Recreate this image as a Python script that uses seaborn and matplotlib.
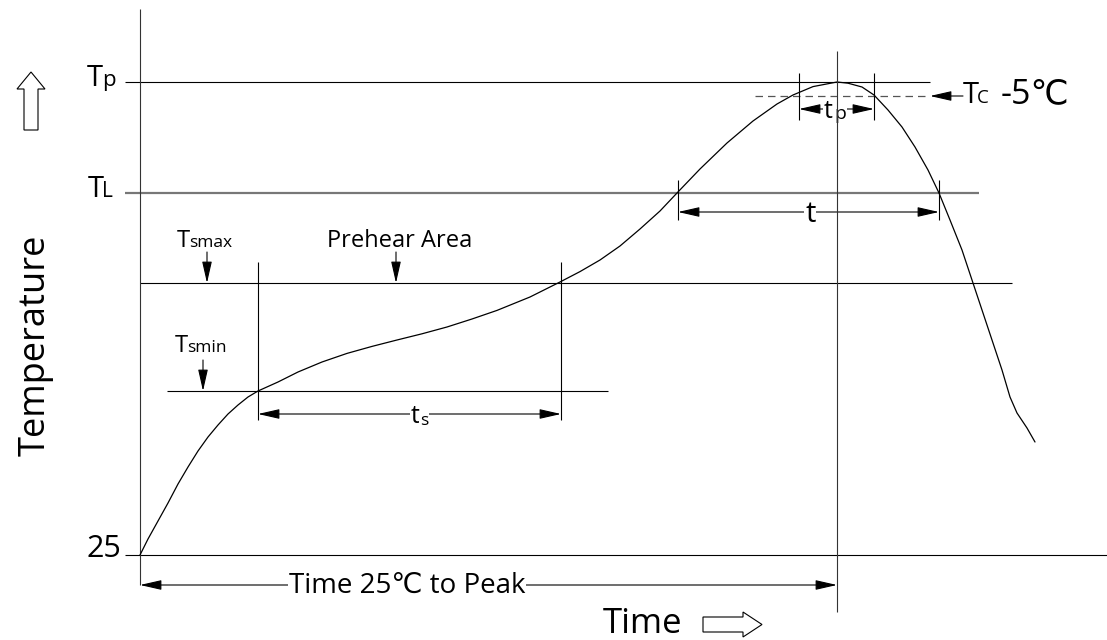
import pandas as pd
import seaborn as sns
import matplotlib.pyplot as plt
from matplotlib.transforms import Affine2D
from matplotlib.patches import Polygon

# Reflow profile curve (schematic), time in arbitrary units, temperature in deg C
time_s = [0, 8, 18, 28, 38, 48, 58, 68, 78, 88, 98, 108, 118, 138, 158, 182, 207,
          232, 257, 282, 307, 332, 357, 390, 420, 440, 460, 480, 500, 520, 537,
          560, 587, 613, 637, 653, 673, 697, 708, 722, 734, 748, 762, 775, 788,
          799, 810, 822, 832, 842, 852, 862, 870, 877, 887, 895]
temp_c = [25, 33, 42, 51, 60.5, 69, 77, 84, 90, 95.5, 100, 104, 107, 111.5, 116.5,
          121.5, 125.8, 129.3, 132.5, 135.6, 139, 143, 147.3, 154, 161.5, 166.7,
          172.5, 179.5, 188, 197, 206, 218, 231, 242, 250.5, 255, 259.2, 261.5,
          260.9, 259, 255, 247.5, 239, 229, 217.5, 206, 192.5, 177.5, 162.5,
          147.5, 132.5, 117.5, 104, 96, 88.5, 81.5]

# Temperature levels
level_names = ['Tp', 'TL', 'Tsmax', 'Tsmin', '25']
level_temps = [261.5, 206, 161, 107, 25]
tc_minus5 = 254.5

# Time markers
ts_start, ts_end = 118, 421
t_start, t_end = 538, 799
tp_start, tp_end = 659, 734
t_peak = 697

W, H, DPI = 1107, 640, 100

sns.set_theme(style='white')
plt.rcParams['font.family'] = ['Open Sans', 'DejaVu Sans']

fig = plt.figure(figsize=(W / DPI, H / DPI), dpi=DPI)
ax = fig.add_axes([0, 0, 1, 1])
ax.set_xlim(-140, 967)
ax.set_ylim(-17.5, 302.5)
ax.axis('off')

# pixel transform for text / decorations (origin top-left like the picture)
px = Affine2D().scale(1 / DPI, -1 / DPI).translate(0, H / DPI) + fig.dpi_scale_trans

df = pd.DataFrame({'time': time_s, 'temp': temp_c})
sns.lineplot(data=df, x='time', y='temp', color='black', lw=0.9, ax=ax, zorder=5)

# level lines
lv = dict(zip(level_names, level_temps))
ax.hlines(lv['Tp'], -15, 790, color='black', lw=0.8)
ax.hlines(lv['TL'], -15, 839, color='#777777', lw=1.6)
ax.hlines(lv['Tsmax'], 0, 872, color='black', lw=0.8)
ax.hlines(lv['Tsmin'], 27, 468, color='black', lw=0.8)
ax.hlines(lv['25'], -15, 967, color='black', lw=0.8)
ax.hlines(tc_minus5, 615, 790, color='#555555', lw=0.9, linestyles=(0, (6, 4)))

# vertical lines
ax.vlines(0, 10, 298, color='#333333', lw=0.8)
ax.vlines(t_peak, -3.5, 277, color='#333333', lw=0.8, zorder=6)
ax.vlines([ts_start, ts_end], 92.5, 171.5, color='black', lw=0.8)
ax.vlines([t_start, t_end], 192.5, 212.5, color='black', lw=0.8)
ax.vlines([tp_start, tp_end], 242.5, 266, color='black', lw=0.8)

head = '-|>,head_length=1.1,head_width=0.25'
both = '<|-|>,head_length=1.1,head_width=0.25'


def arrow(x0, y0, x1, y1, style=head):
    ax.annotate('', xy=(x1, y1), xytext=(x0, y0),
                arrowprops=dict(arrowstyle=style, color='black', lw=0.8,
                                shrinkA=0, shrinkB=0))


# dimension arrows
arrow(ts_start, 95.5, ts_end, 95.5, both)
arrow(t_start, 196.5, t_end, 196.5, both)
arrow(tp_start, 248, tp_end, 248, both)
arrow(0, 10, t_peak, 10, both)
# pointers
arrow(67, 176.5, 67, lv['Tsmax'])
arrow(256, 176.5, 256, lv['Tsmax'])
arrow(63, 122.5, 63, lv['Tsmin'])
arrow(823, tc_minus5, 790, tc_minus5)


def txt(x, y, s, size, ha='left', va='baseline', bg=False, **kw):
    box = dict(fc='white', ec='none', pad=0.5) if bg else None
    return ax.text(x, y, s, fontsize=size, ha=ha, va=va, transform=px,
                   bbox=box, color='black', **kw)


# left labels
txt(87, 86, 'T', 21)
txt(102, 86, 'p', 16)
txt(88, 197, 'T', 21)
txt(102, 197, 'L', 15)
txt(121, 549, '25', 22, ha='right', va='center')
txt(36, 345, 'Temperature', 26, ha='center', va='center', rotation=90)

# preheat labels
txt(177, 247, 'T', 17)
txt(189, 247, 'smax', 12.5)
txt(327, 247, 'Prehear Area', 17)
txt(175, 352, 'T', 17)
txt(187, 352, 'smin', 12.5)

# dimension labels
txt(411, 423, 't', 18, bg=True, zorder=7)
txt(420, 425, 's', 12.5, bg=True, zorder=7)
txt(805, 222, 't', 21, bg=True, zorder=4)
txt(824, 118, 't', 18, bg=True, zorder=4)
txt(834, 119, 'p', 14, bg=True, zorder=4)
txt(289, 593, 'Time 25\u2103 to Peak', 20, bg=True, zorder=7)

# Tc -5C
txt(963, 103, 'T', 21)
txt(977, 103, 'C', 13.5)
txt(1001, 103, '-5\u2103', 24.5)

# bottom label
txt(603, 633, 'Time', 25)

# outline arrows
ax.add_patch(Polygon([(24, 130), (24, 89), (17, 89), (31, 72), (45, 89), (38, 89), (38, 130)],
                     closed=True, fc='white', ec='black', lw=0.8, transform=px))
ax.add_patch(Polygon([(703, 617), (743, 617), (743, 612), (762, 624.5), (743, 637), (743, 632), (703, 632)],
                     closed=True, fc='white', ec='black', lw=0.8, transform=px))

fig.savefig('out.png', dpi=DPI, facecolor='white')
